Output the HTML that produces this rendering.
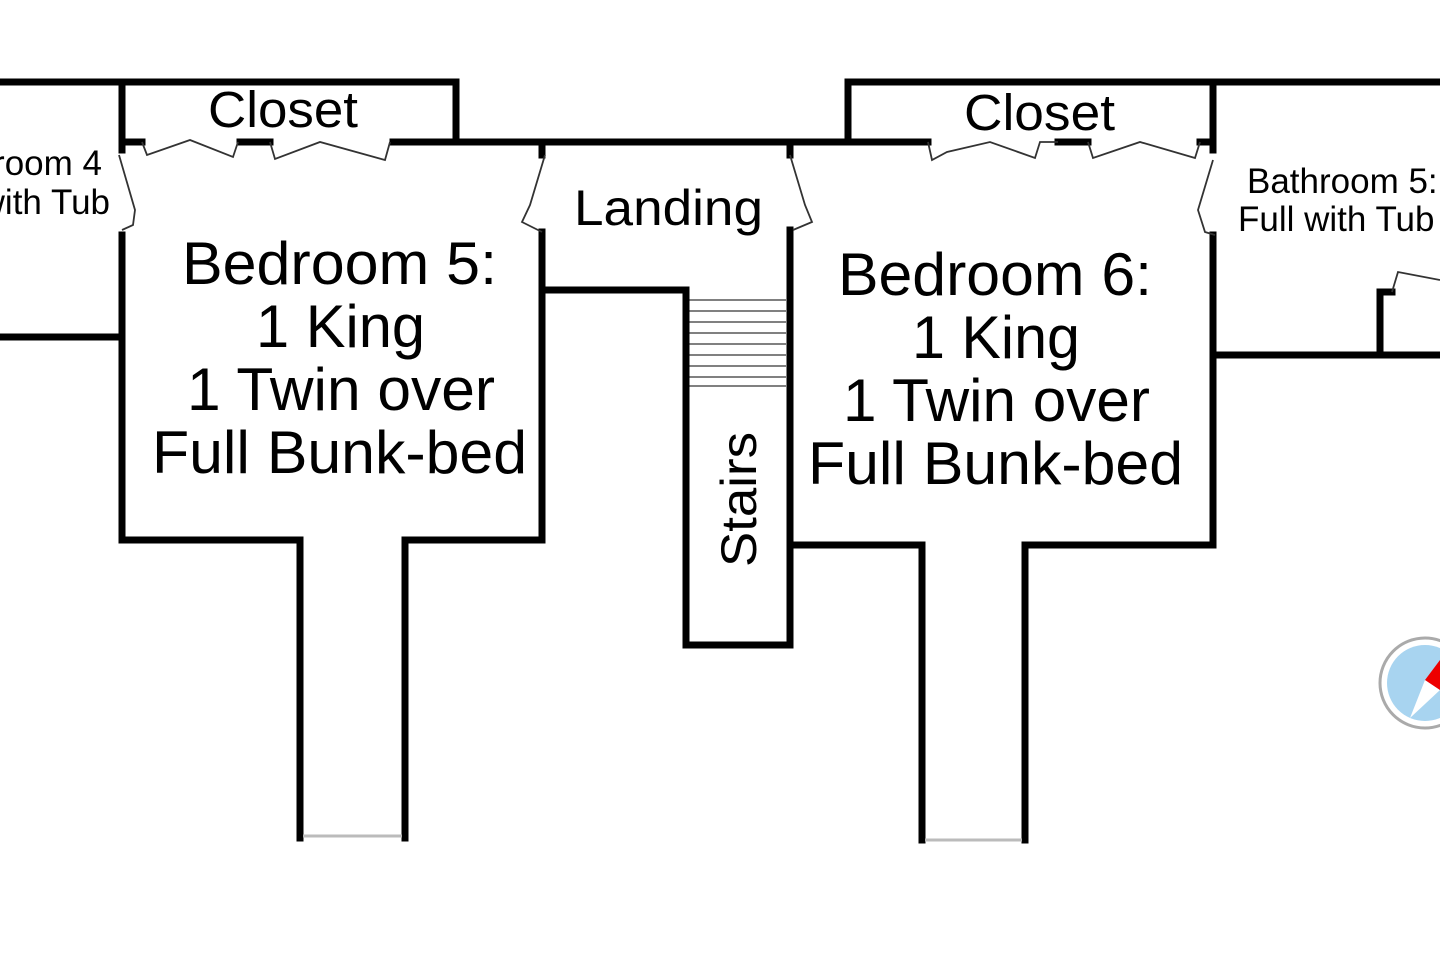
<!DOCTYPE html>
<html><head><style>
html,body{margin:0;padding:0;background:#fff;width:1440px;height:960px;overflow:hidden}
svg{display:block}
text{font-family:"Liberation Sans",sans-serif;fill:#000}
</style></head><body>
<svg width="1440" height="960" viewBox="0 0 1440 960" xmlns="http://www.w3.org/2000/svg">
<g stroke="#000" stroke-width="7" fill="none" stroke-linecap="square">
<path d="M0 82 H122"/>
<path d="M0 337 H122"/>
<path d="M122 82 H456 V142"/>
<path d="M122 142 H142 M240 142 H270 M393 142 H456"/>
<path d="M122 82 V150 M122 235 V540 H300 V838 M405 838 V540 H542 V290"/>
<path d="M456 142 H542"/>
<path d="M542 142 V155 M542 232 V290 H686"/>
<path d="M542 142 H848"/>
<path d="M686 290 V645 H790 V545"/>
<path d="M790 142 V155 M790 230 V545"/>
<path d="M848 82 H1213 M848 82 V142 H928 M1058 142 H1088 M1200 142 H1213"/>
<path d="M790 545 H922 V840 M1025 840 V545 H1213 V235 M1213 150 V82"/>
<path d="M1213 82 H1440 M1213 355 H1440 M1380 355 V292 H1392"/>
</g>
<g stroke="#bbb" stroke-width="3">
<path d="M303 836 H402"/><path d="M925 840 H1022"/>
</g>
<g stroke="#000" stroke-width="1" fill="none">
<path d="M686 300 H786 M686 311 H786 M686 322 H786 M686 333 H786 M686 344 H786 M686 355 H786 M686 366 H786 M686 377 H786 M686 386 H786"/>
</g>
<g stroke="#333" stroke-width="1.8" fill="none">
<path d="M142 142 L147 155 L190 140 L233 157 L238 142"/>
<path d="M270 142 L275 159 L320 142 L385 160 L390 142"/>
<path d="M119 155 L135 210 L133 225 L122 230"/>
<path d="M545 155 L530 205 L522 222 L542 232"/>
<path d="M790 155 L805 205 L812 222 L793 230"/>
<path d="M928 142 L932 160 L947 152 L990 142 L1035 158 L1040 142 L1058 142"/>
<path d="M1088 142 L1093 158 L1140 142 L1195 158 L1200 142"/>
<path d="M1213 160 L1198 210 L1205 232 L1215 235"/>
<path d="M1392 292 L1398 272 L1440 280"/>
</g>
<circle cx="1425" cy="683" r="45" fill="#fff" stroke="#aaa" stroke-width="3"/>
<circle cx="1425" cy="683" r="38" fill="#a8d4f0"/>
<path d="M1410 718 L1425 680 L1440 690 Z" fill="#fff"/>
<path d="M1425 680 L1440 660 L1440 690 Z" fill="#e00"/>
<text x="208" y="127" font-size="51" textLength="150" lengthAdjust="spacingAndGlyphs">Closet</text>
<text x="964" y="130" font-size="51" textLength="151" lengthAdjust="spacingAndGlyphs">Closet</text>
<text x="574" y="225" font-size="50" textLength="189" lengthAdjust="spacingAndGlyphs">Landing</text>
<text x="102" y="175" font-size="35" text-anchor="end">Bathroom 4</text>
<text x="110" y="214" font-size="35" text-anchor="end">Full with Tub</text>
<text x="1247" y="193" font-size="35">Bathroom 5:</text>
<text x="1238" y="231" font-size="35">Full with Tub</text>
<g font-size="60">
<text x="182" y="284" textLength="315" lengthAdjust="spacingAndGlyphs">Bedroom 5:</text>
<text x="256" y="347" textLength="169" lengthAdjust="spacingAndGlyphs">1 King</text>
<text x="187" y="410" textLength="308" lengthAdjust="spacingAndGlyphs">1 Twin over</text>
<text x="152" y="473" textLength="375" lengthAdjust="spacingAndGlyphs">Full Bunk-bed</text>
<text x="838" y="295" textLength="314" lengthAdjust="spacingAndGlyphs">Bedroom 6:</text>
<text x="912" y="358" textLength="168" lengthAdjust="spacingAndGlyphs">1 King</text>
<text x="843" y="421" textLength="307" lengthAdjust="spacingAndGlyphs">1 Twin over</text>
<text x="808" y="484" textLength="375" lengthAdjust="spacingAndGlyphs">Full Bunk-bed</text>
</g>
<text x="0" y="0" font-size="50" transform="translate(756 567) rotate(-90)" textLength="135" lengthAdjust="spacingAndGlyphs">Stairs</text>
</svg>
</body></html>
